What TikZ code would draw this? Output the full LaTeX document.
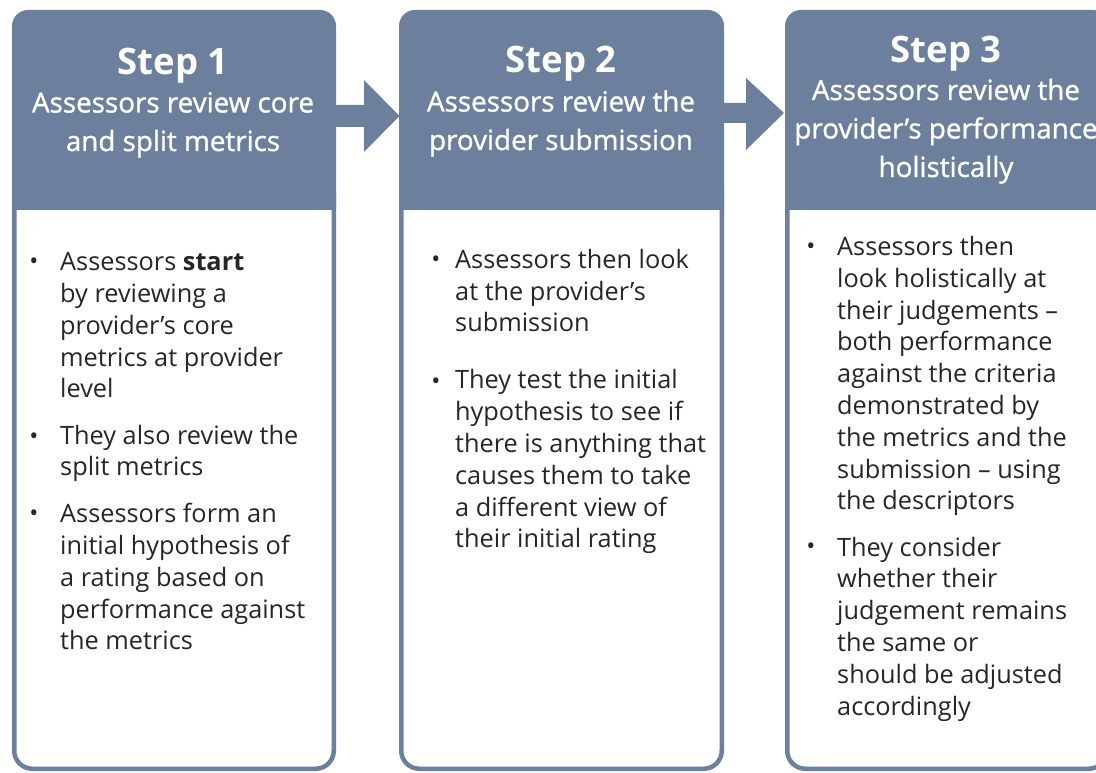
\documentclass[tikz,border=0pt]{standalone}
\usepackage{fontspec}
\setmainfont{Open Sans}
\newfontfamily\subfont[FakeBold=1.1]{Open Sans}
\definecolor{slate}{HTML}{6C809E}
\definecolor{ink}{HTML}{262626}
\begin{document}
\begin{tikzpicture}[x=1pt,y=1pt,
  headfill/.style={fill=slate},
  bodybox/.style={draw=slate, line width=4.5pt, fill=white, rounded corners=18pt},
  steptitle/.style={text=white, font=\fontsize{36.5}{40}\selectfont\bfseries, anchor=base, inner sep=0pt},
  stepsub/.style={text=white, font=\fontsize{27.8}{38.5}\selectfont\subfont, align=center, anchor=base, inner sep=0pt},
  bodytext/.style={text=ink, font=\fontsize{25.3}{31.8}\selectfont, align=left, anchor=base west, inner sep=0pt},
  bulletmark/.style={text=ink, font=\fontsize{24}{31.8}\selectfont, anchor=base, inner sep=0pt},
  flow/.style={fill=slate}]
\useasboundingbox (0,0) rectangle (1096,772);
\clip (0,0) rectangle (1096,772);
\fill[white] (0,0) rectangle (1096,772);

% bodies
\draw[bodybox] (14.25,3.25) rectangle (333.75,600);
\draw[bodybox] (401.25,3.25) rectangle (721.75,600);
\draw[bodybox] (787.25,3.25) rectangle (1106.75,600);

% headers
\fill[headfill] (12,562) -- (12,746) arc[start angle=180,end angle=90,radius=16] -- (320,762) arc[start angle=90,end angle=0,radius=16] -- (336,562) -- cycle;
\fill[headfill] (399,562) -- (399,746) arc[start angle=180,end angle=90,radius=16] -- (708,762) arc[start angle=90,end angle=0,radius=16] -- (724,562) -- cycle;
\fill[headfill] (785,562) -- (785,746) arc[start angle=180,end angle=90,radius=16] -- (1093,762) arc[start angle=90,end angle=0,radius=16] -- (1109,562) -- cycle;

% flow arrows
\fill[flow] (334,645) -- (364,645) -- (364,620) -- (399.5,656) -- (364,692) -- (364,667) -- (334,667) -- cycle;
\fill[flow] (722,649) -- (746,649) -- (746,622) -- (784,659) -- (746,694) -- (746,669) -- (722,669) -- cycle;

% header texts (base anchor = baseline of last line)
\node[steptitle] (s1) at (173,697) {Step 1};
\node[stepsub] (t1) at (173,621) {Assessors review core\\and split metrics};
\node[steptitle] (s2) at (561,699) {Step 2};
\node[stepsub] (t2) at (561,622) {Assessors review the\\provider submission};
\node[steptitle] (s3) at (946,709) {Step 3};
\node[stepsub] (t3) at (946,595) {Assessors review the\\provider’s performance\\holistically};

% column 1 bullets
\node[bulletmark] (d1a) at (34,502) {•};
\node[bodytext] (b1a) at (60,374) {Assessors \textbf{start}\\by reviewing a\\provider’s core\\metrics at provider\\level};
\node[bulletmark] (d1b) at (34,327) {•};
\node[bodytext] (b1b) at (60,296) {They also review the\\split metrics};
\node[bulletmark] (d1c) at (34,250) {•};
\node[bodytext] (b1c) at (60,122) {Assessors form an\\initial hypothesis of\\a rating based on\\performance against\\the metrics};

% column 2 bullets
\node[bulletmark] (d2a) at (436,504) {•};
\node[bodytext] (b2a) at (455,440) {Assessors then look\\at the provider’s\\submission};
\node[bulletmark] (d2b) at (436,382) {•};
\node[bodytext] (b2b) at (455,224) {They test the initial\\hypothesis to see if\\there is anything that\\causes them to take\\a different view of\\their initial rating};

% column 3 bullets
\node[bulletmark] (d3a) at (811,517) {•};
\node[bodytext] (b3a) at (837,262) {Assessors then\\look holistically at\\their judgements –\\both performance\\against the criteria\\demonstrated by\\the metrics and the\\submission – using\\the descriptors};
\node[bulletmark] (d3b) at (811,217) {•};
\node[bodytext] (b3b) at (837,57) {They consider\\whether their\\judgement remains\\the same or\\should be adjusted\\accordingly};
\end{tikzpicture}
\end{document}
